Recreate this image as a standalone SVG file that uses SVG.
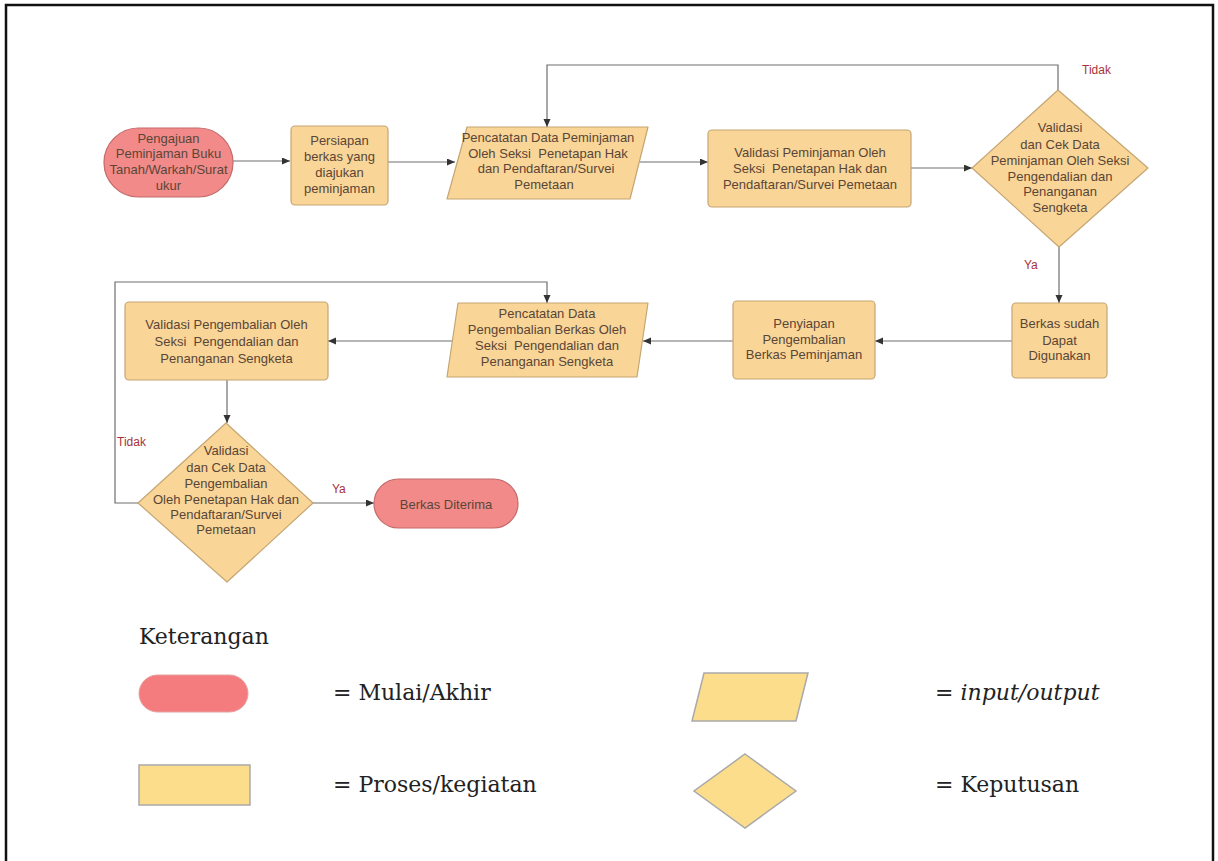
<svg xmlns="http://www.w3.org/2000/svg" width="1218" height="861" viewBox="0 0 1218 861">
<defs>
<style>
.t{font-family:"Liberation Sans",Arial,sans-serif;font-size:13px;fill:#5a4636;text-anchor:middle;white-space:pre}
.lbl{font-family:"Liberation Sans",Arial,sans-serif;font-size:12px;fill:#a8323a}
.term{fill:#f28a8a;stroke:#c46a6a;stroke-width:1.2}
.proc{fill:#f9d598;stroke:#c4a673;stroke-width:1.2}
.conn{fill:none;stroke:#6e6e6e;stroke-width:1.2}
.lg{font-family:"DejaVu Serif","Liberation Serif",serif;font-size:22px;fill:#222}
.lterm{fill:#f47c7f;stroke:#e6a0a0;stroke-width:1}
.lproc{fill:#fcdd8b;stroke:#a9a9a9;stroke-width:1.5}
</style>
<marker id="ah" markerUnits="userSpaceOnUse" markerWidth="9" markerHeight="8" refX="8" refY="3.5" orient="auto">
<path d="M0,0 L8,3.5 L0,7 z" fill="#333"/>
</marker>
</defs>
<rect x="0" y="0" width="1218" height="861" fill="#fff"/>
<rect x="6" y="5" width="1207" height="880" fill="none" stroke="#111" stroke-width="2.5"/>

<g id="connectors">
<path class="conn" d="M233,161 H290" marker-end="url(#ah)"/>
<path class="conn" d="M388,162 H455" marker-end="url(#ah)"/>
<path class="conn" d="M640,162 H708" marker-end="url(#ah)"/>
<path class="conn" d="M911,168 H972" marker-end="url(#ah)"/>
<path class="conn" d="M1058,90 V65 H547 V127" marker-end="url(#ah)"/>
<path class="conn" d="M1059,247 V303" marker-end="url(#ah)"/>
<path class="conn" d="M1012,341 H875" marker-end="url(#ah)"/>
<path class="conn" d="M733,341 H643" marker-end="url(#ah)"/>
<path class="conn" d="M452,341 H328" marker-end="url(#ah)"/>
<path class="conn" d="M227,380 V423" marker-end="url(#ah)"/>
<path class="conn" d="M138,503 H115 V282 H547 V303" marker-end="url(#ah)"/>
<path class="conn" d="M313,503 H374" marker-end="url(#ah)"/>
<text class="lbl" x="1082" y="74">Tidak</text>
<text class="lbl" x="1024" y="269">Ya</text>
<text class="lbl" x="117" y="446">Tidak</text>
<text class="lbl" x="332" y="493">Ya</text>
</g>

<g id="start">
<rect class="term" x="104" y="128" width="129" height="69" rx="34.5"/>
<text class="t" x="168.5" y="143">Pengajuan</text>
<text class="t" x="168.5" y="158">Peminjaman Buku</text>
<text class="t" x="168.5" y="174">Tanah/Warkah/Surat</text>
<text class="t" x="168.5" y="190">ukur</text>
</g>

<g id="persiapan">
<rect class="proc" x="291" y="126" width="97" height="79" rx="4"/>
<text class="t" x="339.5" y="145">Persiapan</text>
<text class="t" x="339.5" y="161">berkas yang</text>
<text class="t" x="339.5" y="177">diajukan</text>
<text class="t" x="339.5" y="193">peminjaman</text>
</g>

<g id="pencatatan-peminjaman">
<polygon class="proc" points="467,127 648,127 630,199 447,199" stroke-linejoin="round"/>
<text class="t" x="548" y="142">Pencatatan Data Peminjaman</text>
<text class="t" x="548" y="158" xml:space="preserve">Oleh Seksi  Penetapan Hak</text>
<text class="t" x="546" y="173">dan Pendaftaran/Survei</text>
<text class="t" x="544" y="189">Pemetaan</text>
</g>

<g id="validasi-peminjaman">
<rect class="proc" x="708" y="130" width="203" height="77" rx="4"/>
<text class="t" x="810" y="157">Validasi Peminjaman Oleh</text>
<text class="t" x="810" y="173" xml:space="preserve">Seksi  Penetapan Hak dan</text>
<text class="t" x="810" y="189">Pendaftaran/Survei Pemetaan</text>
</g>

<g id="keputusan-1">
<polygon class="proc" points="1058,90 1148,168 1059,247 972,168" stroke-linejoin="round"/>
<text class="t" x="1060" y="132">Validasi</text>
<text class="t" x="1060" y="149">dan Cek Data</text>
<text class="t" x="1060" y="165">Peminjaman Oleh Seksi</text>
<text class="t" x="1060" y="181">Pengendalian dan</text>
<text class="t" x="1060" y="196">Penanganan</text>
<text class="t" x="1060" y="212">Sengketa</text>
</g>

<g id="berkas-digunakan">
<rect class="proc" x="1012" y="303" width="95" height="75" rx="4"/>
<text class="t" x="1059.5" y="328">Berkas sudah</text>
<text class="t" x="1059.5" y="345">Dapat</text>
<text class="t" x="1059.5" y="360">Digunakan</text>
</g>

<g id="penyiapan">
<rect class="proc" x="733" y="301" width="142" height="78" rx="4"/>
<text class="t" x="804" y="328">Penyiapan</text>
<text class="t" x="804" y="344">Pengembalian</text>
<text class="t" x="804" y="359">Berkas Peminjaman</text>
</g>

<g id="pencatatan-pengembalian">
<polygon class="proc" points="458,303 648,303 637,377 447,377" stroke-linejoin="round"/>
<text class="t" x="547" y="318">Pencatatan Data</text>
<text class="t" x="547" y="334">Pengembalian Berkas Oleh</text>
<text class="t" x="547" y="350" xml:space="preserve">Seksi  Pengendalian dan</text>
<text class="t" x="547" y="366">Penanganan Sengketa</text>
</g>

<g id="validasi-pengembalian">
<rect class="proc" x="125" y="302" width="203" height="78" rx="4"/>
<text class="t" x="226.5" y="329">Validasi Pengembalian Oleh</text>
<text class="t" x="226.5" y="346" xml:space="preserve">Seksi  Pengendalian dan</text>
<text class="t" x="226.5" y="363">Penanganan Sengketa</text>
</g>

<g id="keputusan-2">
<polygon class="proc" points="226,423 313,503 227,582 138,503" stroke-linejoin="round"/>
<text class="t" x="226" y="455">Validasi</text>
<text class="t" x="226" y="472">dan Cek Data</text>
<text class="t" x="226" y="488">Pengembalian</text>
<text class="t" x="226" y="504">Oleh Penetapan Hak dan</text>
<text class="t" x="226" y="519">Pendaftaran/Survei</text>
<text class="t" x="226" y="534">Pemetaan</text>
</g>

<g id="berkas-diterima">
<rect class="term" x="374" y="479" width="144" height="49" rx="24.5"/>
<text class="t" x="446" y="509">Berkas Diterima</text>
</g>

<g id="legend">
<text class="lg" x="139" y="644">Keterangan</text>
<rect class="lterm" x="139" y="675" width="109" height="37" rx="18.5"/>
<text class="lg" x="333" y="700">= Mulai/Akhir</text>
<polygon class="lproc" points="704,673 808,673 796,721 692,721"/>
<text class="lg" x="935" y="700">= <tspan font-style="italic">input/output</tspan></text>
<rect class="lproc" x="139" y="765" width="111" height="40"/>
<text class="lg" x="333" y="792">= Proses/kegiatan</text>
<polygon class="lproc" points="745,754 796,791 745,828 694,791"/>
<text class="lg" x="935" y="792">= Keputusan</text>
</g>
</svg>
